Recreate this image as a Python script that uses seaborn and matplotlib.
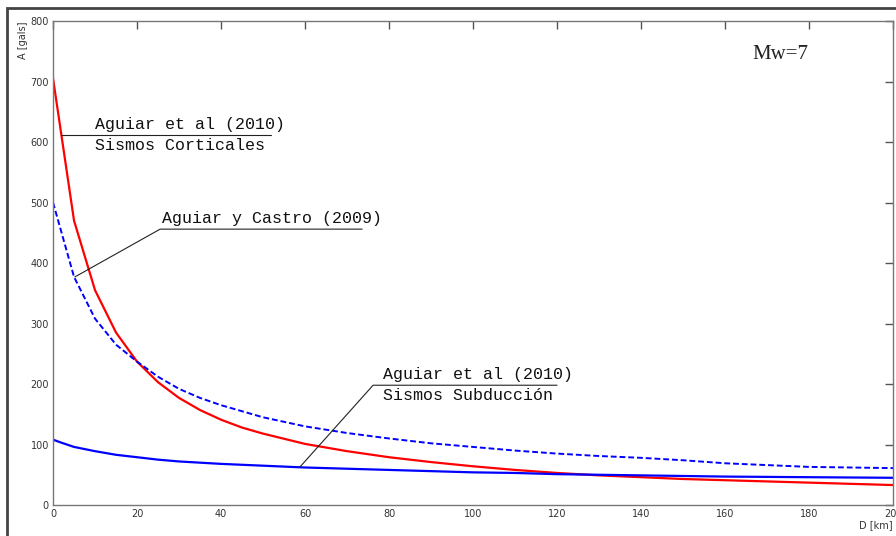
import matplotlib
matplotlib.use("Agg")
import matplotlib.pyplot as plt
import seaborn as sns
import pandas as pd
from matplotlib.patches import Rectangle

# Aguiar et al (2010) - sismos corticales (rojo)
dist_cort = [0, 5, 10, 15, 20, 25, 30, 35, 40, 45, 50, 60, 70, 80, 90, 100,
             110, 120, 130, 140, 150, 160, 170, 180, 190, 200]
acc_cort = [705, 470, 355, 285, 237, 203, 177, 157, 141, 128, 118, 101, 89, 79, 71, 64,
            58, 53, 49, 46, 43, 41, 39, 37, 35, 33]

# Aguiar y Castro (2009) (azul discontinuo)
dist_castro = [0, 5, 10, 15, 20, 25, 30, 35, 40, 50, 60, 70, 80, 90, 100,
               110, 120, 130, 140, 150, 160, 170, 180, 190, 200]
acc_castro = [500, 377, 308, 265, 237, 212, 192, 177, 165, 145, 130, 119, 110, 102, 96,
              90, 85, 81, 78, 74, 69, 66, 63, 62, 61]

# Aguiar et al (2010) - sismos subduccion (azul)
dist_subd = [0, 2, 5, 10, 15, 20, 25, 30, 40, 50, 60, 70, 80, 90, 100,
             110, 120, 140, 160, 180, 200]
acc_subd = [108, 103, 96, 89, 83, 79, 75, 72, 68, 65, 62, 60, 58, 56, 54,
            53, 51, 49, 47, 46, 45]

x_ticks = [0, 20, 40, 60, 80, 100, 120, 140, 160, 180, 200]
y_ticks = [0, 100, 200, 300, 400, 500, 600, 700, 800]

sns.set_style("white")

fig = plt.figure(figsize=(8.96, 5.36), dpi=100)
ax = fig.add_axes([0.0592, 0.0578, 0.9375, 0.903])

df_cort = pd.DataFrame({"D": dist_cort, "A": acc_cort})
df_castro = pd.DataFrame({"D": dist_castro, "A": acc_castro})
df_subd = pd.DataFrame({"D": dist_subd, "A": acc_subd})

sns.lineplot(data=df_cort, x="D", y="A", ax=ax, color="#ff0000", linewidth=1.6)
sns.lineplot(data=df_castro, x="D", y="A", ax=ax, color="#0000ff", linewidth=1.4,
             linestyle=(0, (3, 1.5)))
sns.lineplot(data=df_subd, x="D", y="A", ax=ax, color="#0000ff", linewidth=1.6)

ax.set_xlim(0, 200)
ax.set_ylim(0, 800)
ax.set_xticks(x_ticks)
ax.set_yticks(y_ticks)
ax.tick_params(direction="in", length=6, width=1, top=True, right=True,
               labelsize=7, labelcolor="#333333", color="#555555", pad=3)
for s in ax.spines.values():
    s.set_color("#777777")
    s.set_linewidth(1.0)

ax.set_xlabel("D [km]", loc="right", fontsize=7, color="#333333", labelpad=1)
ax.set_ylabel("A [gals]", loc="top", fontsize=7, color="#333333", labelpad=2)

mono = "Liberation Mono"
lc = "#222222"
# etiqueta: corticales
ax.plot([2, 52], [611, 611], color=lc, linewidth=0.8)
ax.text(10, 616, "Aguiar et al (2010)", family=mono, fontsize=12, color="#111111", va="bottom")
ax.text(10, 606, "Sismos Corticales", family=mono, fontsize=12, color="#111111", va="top")
# etiqueta: Aguiar y Castro
ax.plot([5.2, 25.5, 73.6], [377, 456, 456], color=lc, linewidth=0.8)
ax.text(26, 461, "Aguiar y Castro (2009)", family=mono, fontsize=12, color="#111111", va="bottom")
# etiqueta: subduccion
ax.plot([58.8, 76.2, 120], [63, 198, 198], color=lc, linewidth=0.8)
ax.text(78.5, 203, "Aguiar et al (2010)", family=mono, fontsize=12, color="#111111", va="bottom")
ax.text(78.5, 193, "Sismos Subducción", family=mono, fontsize=12, color="#111111", va="top")

ax.text(166.4, 744, "Mw=7", family="Liberation Serif", fontsize=15, color="#222222",
        va="center", ha="left")

# marco exterior
fig.patches.append(Rectangle((7 / 896, -0.1), 1.2, 1 - 8 / 536 + 0.1,
                             transform=fig.transFigure, fill=False,
                             edgecolor="#444444", linewidth=2))

fig.savefig("out.png", dpi=100)
